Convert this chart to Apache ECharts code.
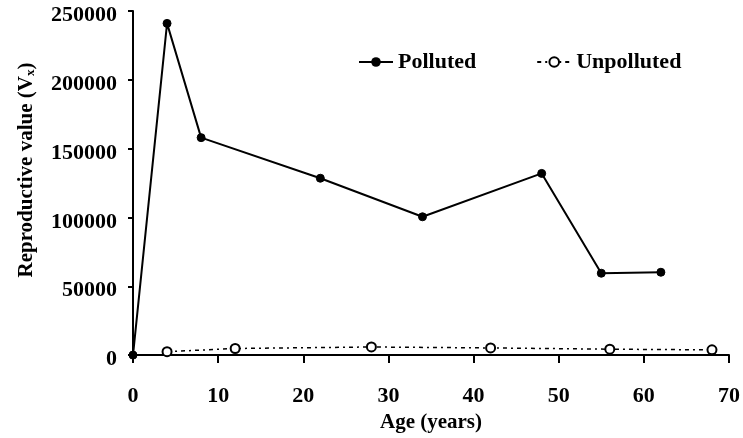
<!DOCTYPE html>
<html>
<head>
<meta charset="utf-8">
<script src="https://cdn.jsdelivr.net/npm/echarts@6/dist/echarts.min.js"></script>
<style>html,body{margin:0;padding:0;background:#fff}#c{width:743px;height:438px}</style>
</head>
<body>
<div id="c"></div>
<script>
var pollutedAge = [0, 4, 8, 22, 34, 48, 55, 62];
var pollutedVx = [0, 241000, 158000, 128500, 100500, 132000, 59500, 60200];
var unpollutedAge = [4, 12, 28, 42, 56, 68];
var unpollutedVx = [2500, 4800, 5900, 5200, 4300, 3800];
var xTicks = [0, 10, 20, 30, 40, 50, 60, 70];
var yTicks = [0, 50000, 100000, 150000, 200000, 250000];

var FONT = '"Liberation Serif", "Times New Roman", serif';
function pairs(xs, ys) { return xs.map(function (x, i) { return [x, ys[i]]; }); }

var chart = echarts.init(document.getElementById('c'), null, {renderer: 'canvas'});
chart.setOption({
  animation: false,
  backgroundColor: '#fff',
  grid: {left: 133, right: 13, top: 11, bottom: 82, containLabel: false},
  legend: {
    left: 358, top: 51, padding: 0,
    itemWidth: 34, itemHeight: 12, itemGap: 60,
    textStyle: {fontFamily: FONT, fontWeight: 'bold', fontSize: 22, color: '#000'},
    data: ['Polluted', 'Unpolluted']
  },
  xAxis: {
    type: 'value', min: xTicks[0], max: xTicks[xTicks.length - 1], interval: 10,
    name: 'Age (years)', nameLocation: 'middle', nameGap: 46,
    nameTextStyle: {fontFamily: FONT, fontWeight: 'bold', fontSize: 21, color: '#000'},
    axisLine: {show: true, lineStyle: {color: '#000', width: 2}},
    axisTick: {show: true, length: 8, lineStyle: {color: '#000', width: 2}},
    axisLabel: {fontFamily: FONT, fontWeight: 'bold', fontSize: 22, color: '#000', margin: 30,
      formatter: function (v) { return String(v); }},
    splitLine: {show: false}
  },
  yAxis: {
    type: 'value', min: yTicks[0], max: yTicks[yTicks.length - 1], interval: 50000,
    name: '{a|Reproductive value (V}{s|x}{a|)}', nameLocation: 'middle', nameGap: 96, nameRotate: 90,
    nameTextStyle: {
      padding: [0, 0, 0, 26],
      rich: {
        a: {fontFamily: FONT, fontWeight: 'bold', fontSize: 21, color: '#000'},
        s: {fontFamily: FONT, fontWeight: 'bold', fontSize: 13, color: '#000', verticalAlign: 'bottom', padding: [8, 0, 0, 0]}
      }
    },
    axisLine: {show: true, lineStyle: {color: '#000', width: 2}},
    axisTick: {show: true, length: 5, lineStyle: {color: '#000', width: 2}},
    axisLabel: {color: '#000', margin: 16,
      formatter: function (v) { return '{v|' + String(v) + '}'; },
      rich: {v: {fontFamily: FONT, fontWeight: 'bold', fontSize: 22, color: '#000', padding: [9, 0, 0, 0]}}},
    splitLine: {show: false}
  },
  series: [
    {
      name: 'Polluted', type: 'line', data: pairs(pollutedAge, pollutedVx),
      symbol: 'circle', symbolSize: 8, showAllSymbol: true,
      lineStyle: {color: '#000', width: 2},
      itemStyle: {color: '#000', borderColor: '#000'},
      z: 3
    },
    {
      name: 'Unpolluted', type: 'line', data: pairs(unpollutedAge, unpollutedVx),
      symbol: 'circle', symbolSize: 9, showAllSymbol: true,
      lineStyle: {color: '#000', width: 1.5, type: [4, 4, 2, 4]},
      itemStyle: {color: '#fff', borderColor: '#000', borderWidth: 2},
      z: 2
    }
  ]
});
</script>
</body>
</html>
